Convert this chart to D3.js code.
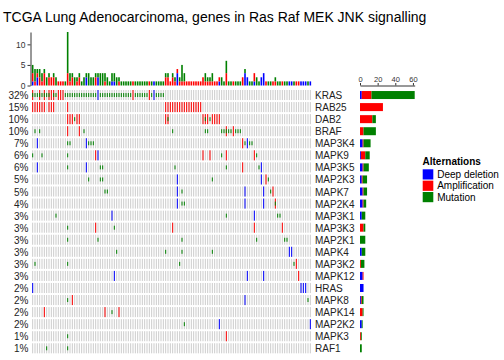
<!DOCTYPE html>
<html><head><meta charset="utf-8">
<script src="https://cdn.jsdelivr.net/npm/d3@7"></script>
<style>body{margin:0;background:#fff} svg{display:block;font-family:"Liberation Sans",Arial,sans-serif}</style>
</head><body><svg id="c" width="504" height="360"></svg>
<script>
// ---- data ----
const title = "TCGA Lung Adenocarcinoma, genes in Ras Raf MEK JNK signalling";
const nSamples = 120;
const genes = ["KRAS","RAB25","DAB2","BRAF","MAP3K4","MAPK9","MAP3K5","MAP2K3","MAPK7","MAP2K4","MAP3K1","MAP3K3","MAP2K1","MAPK4","MAP3K2","MAPK12","HRAS","MAPK8","MAPK14","MAP2K2","MAPK3","RAF1"];
const pctLabels = ["32%","15%","10%","10%","7%","6%","6%","5%","5%","4%","3%","3%","3%","3%","3%","3%","2%","2%","2%","2%","1%","1%"];
// alterations per gene, "sample:type"  (M = mutation, A = amplification, D = deep deletion, B = amp + mut)
const alterations = [
 "0B 1M 2M 3B 4M 5B 6M 7B 8A 9B 10M 11A 12A 13A 14-27M 28D 29-42M 43A 44-49M 50A 51M 52D 53-56M",
 "0-5A 7-9A 15A 57-72A",
 "15A 16A 17A 18M 19A 20A 57A 58B 73A 74B 75A 76M 77A 78A 79A 80A",
 "1M 3M 15A 20A 22M 60M 74M 75M 81M 82M 83B 84M 85M 86A 87M 88M 89M",
 "2D 15M 16M 23D 24M 25M 26M 90A 91M 92D 93M 94M",
 "0M 4M 15M 27A 28D 73A 76A 81M 83A 95A 96M",
 "2D 15M 23D 29M 30M 61M 83M 90A 97M 98D",
 "24M 29M 30M 62D 77M 98D 100A 101M",
 "31M 32M 62D 64M 91D 99D 102M 103A",
 "62D 64M 65M 91D 99D 104B",
 "10M 34D 83M 95D 105M 106M",
 "15M 27A 35M 60A 95A 107A",
 "15M 28M 64M 96M 108M 109M",
 "36M 57M 64M 77M 110D 111D",
 "1M 15M 63M 112M 113A",
 "35D 92D 99D 114A",
 "0D 115D 116D 117D",
 "15M 17A 91D 118M",
 "5A 31A 34M 37A",
 "65M 80D 119D",
 "15M 83A",
 "6M 15M"
];
const types = ["HOMDEL","AMP","MUT"];
const typeLabels = ["Deep deletion","Amplification","Mutation"];
const typeColors = ["#0000FF","#FF0000","#008000"];
const topTicks = [0,5,10];
const rightTicks = [0,20,40,60];
const legendTitle = "Alternations";

// ---- parse ----
const codeMap = {M:["MUT"],A:["AMP"],D:["HOMDEL"],B:["AMP","MUT"],E:["HOMDEL","MUT"]};
const cells = [];
alterations.forEach((str,gi)=>{
  str.trim().split(/\s+/).forEach(tok=>{
    const m = tok.match(/^(\d+)(?:-(\d+))?([A-Z])$/);
    const a=+m[1], b=m[2]!==undefined?+m[2]:a;
    for(let s=a;s<=b;s++) codeMap[m[3]].forEach(t=>cells.push({g:gi,s:s,t:t}));
  });
});
const perSample = d3.range(nSamples).map(s=>{const o={s}; types.forEach(t=>o[t]=0); return o;});
const perGene = genes.map((g,i)=>{const o={g:i}; types.forEach(t=>o[t]=0); return o;});
cells.forEach(c=>{perSample[c.s][c.t]++; perGene[c.g][c.t]++;});

// ---- layout ----
const svg = d3.select("#c");
const x = d3.scaleBand().domain(d3.range(nSamples)).range([31.5, 311.5]);
const y = d3.scaleBand().domain(d3.range(genes.length)).range([89, 89+22*12.06]);
const color = d3.scaleOrdinal().domain(types).range(typeColors);
const cw = 1.0, pad = 1;

svg.append("text").attr("x",3).attr("y",22).attr("font-size",14).attr("fill","#000").text(title);

const bg = svg.append("g");
genes.forEach((g,gi)=>{
  bg.selectAll(null).data(d3.range(nSamples)).join("rect")
    .attr("x",s=>x(s)+(x.step()-cw)/2).attr("width",cw)
    .attr("y",y(gi)+pad).attr("height",y.bandwidth()-2*pad)
    .attr("fill","#CCCCCC");
});
svg.append("g").selectAll("rect").data(cells.filter(c=>c.t!=="MUT")).join("rect")
  .attr("x",c=>x(c.s)+(x.step()-cw)/2).attr("width",cw)
  .attr("y",c=>y(c.g)+pad).attr("height",y.bandwidth()-2*pad)
  .attr("fill",c=>color(c.t));
svg.append("g").selectAll("rect").data(cells.filter(c=>c.t==="MUT")).join("rect")
  .attr("x",c=>x(c.s)+(x.step()-cw)/2).attr("width",cw)
  .attr("y",c=>y(c.g)+y.bandwidth()/2-y.bandwidth()*0.33/2).attr("height",y.bandwidth()*0.33)
  .attr("fill",c=>color(c.t));

svg.append("g").selectAll("text").data(pctLabels).join("text")
  .attr("x",28.5).attr("y",(d,i)=>y(i)+y.bandwidth()/2+0.5).attr("dy","0.35em")
  .attr("text-anchor","end").attr("font-size",10).attr("fill","#222").text(d=>d);
svg.append("g").selectAll("text").data(genes).join("text")
  .attr("x",315).attr("y",(d,i)=>y(i)+y.bandwidth()/2+0.5).attr("dy","0.35em")
  .attr("font-size",10).attr("fill","#222").text(d=>d);

// top barplot
const yTop = d3.scaleLinear().domain([0,13]).range([85.5,32]);
const stackTop = d3.stack().keys(types)(perSample);
const bw = 1.6;
svg.append("g").selectAll("g").data(stackTop).join("g").attr("fill",d=>color(d.key))
  .selectAll("rect").data(d=>d).join("rect")
  .attr("x",d=>x(d.data.s)+(x.step()-bw)/2).attr("width",bw)
  .attr("y",d=>yTop(d[1])).attr("height",d=>yTop(d[0])-yTop(d[1]));
const axT = svg.append("g").attr("transform","translate(30.5,0)")
  .call(d3.axisLeft(yTop).tickValues(topTicks).tickSize(3).tickSizeOuter(0).tickPadding(2));
axT.selectAll("text").attr("font-size",8.5).attr("fill","#333").attr("font-family","Liberation Sans,Arial,sans-serif");
axT.selectAll("path,line").attr("stroke","#333");

// right barplot
const xR = d3.scaleLinear().domain([0,d3.max(perGene,d=>d3.sum(types,t=>d[t]))]).range([360,414.7]);
const stackR = d3.stack().keys(types)(perGene);
const bh = 8;
svg.append("g").selectAll("g").data(stackR).join("g").attr("fill",d=>color(d.key))
  .selectAll("rect").data(d=>d).join("rect")
  .attr("y",d=>y(d.data.g)+y.bandwidth()/2-bh/2).attr("height",bh)
  .attr("x",d=>xR(d[0])).attr("width",d=>xR(d[1])-xR(d[0]));
const axR = svg.append("g").attr("transform","translate(0,85.5)")
  .call(d3.axisTop(xR).tickValues(rightTicks).tickSize(2.5).tickSizeOuter(0).tickPadding(1.5));
axR.selectAll("text").attr("font-size",7.5).attr("fill","#333").attr("font-family","Liberation Sans,Arial,sans-serif");
axR.selectAll("path,line").attr("stroke","#333");

// legend
const lg = svg.append("g");
lg.append("text").attr("x",422.5).attr("y",164.5).attr("font-size",10).attr("font-weight","bold").text(legendTitle);
const li = lg.selectAll("g.it").data(types).join("g").attr("class","it")
  .attr("transform",(d,i)=>`translate(422.7,${169.3+i*11.35})`);
li.append("rect").attr("width",10.6).attr("height",10.2).attr("fill",d=>color(d));
li.append("text").attr("x",14.5).attr("y",5.1).attr("dy","0.35em").attr("font-size",10).text((d,i)=>typeLabels[i]);
</script></body></html>
